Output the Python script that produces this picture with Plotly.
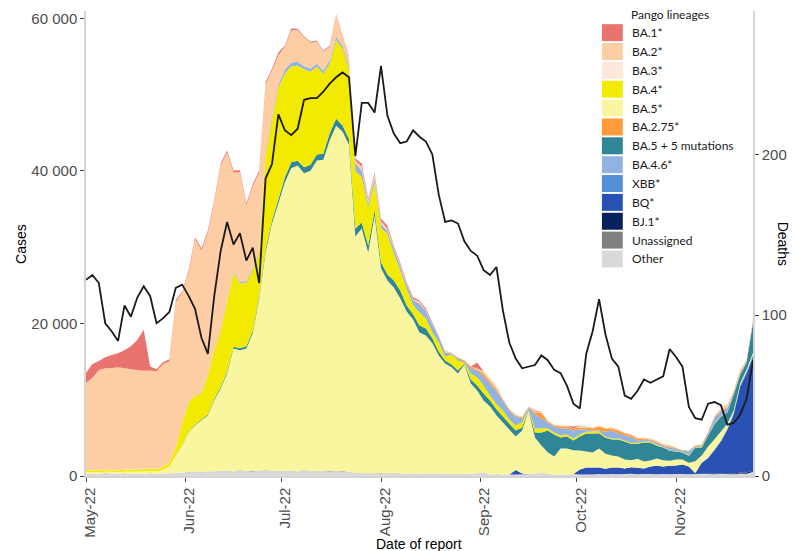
import pandas as pd
import plotly.graph_objects as go

# Reporting dates (every second day)
dates = pd.date_range("2022-05-01", "2022-11-25", freq="2D")

# Daily cases by Pango lineage
other = [320, 300, 280, 350, 300, 280, 330, 300, 280, 300, 330, 300, 320, 350, 400,
         450, 500, 550, 500, 600, 550, 700, 650, 600, 700, 650, 600, 700,
         750, 700, 650, 700, 650, 600, 700, 650, 600, 650, 600, 650, 600, 550,
         400, 400, 350, 400, 350, 350, 400, 350, 300, 300, 300, 300, 300,
         300, 250, 250, 250, 300, 250, 400, 500, 200, 250, 200, 200, 200, 200, 250,
         300, 500, 200, 200, 200, 200, 250, 200, 200, 200,
         250, 220, 260, 240, 250, 280, 230, 250, 260, 240, 250, 230, 260, 250, 240,
         250, 270, 250, 240, 260, 250, 230, 300, 300, 500]

unassigned = [20, 0, 0, 30, 0, 0, 20, 0, 0, 0, 30, 0, 0, 20, 0,
              0, 30, 0, 40, 0, 50, 0, 30, 0, 40, 0, 60, 0, 30, 0,
              50, 0, 40, 0, 60, 0, 30, 0, 50, 0, 40, 0, 30, 0, 20,
              0, 30, 0, 20, 0, 0, 20, 0, 0, 30, 0, 0, 20, 0, 0,
              20, 0, 0, 0, 20, 0, 0, 0, 20, 0, 0, 0, 20, 0, 0,
              0, 20, 0, 0, 0, 20, 0, 0, 0, 0, 20, 0, 0, 0, 0,
              20, 0, 0, 0, 0, 20, 0, 0, 0, 30, 0, 0, 40, 0, 50]

bj1 = [0] * 96 + [30, 50, 50, 80, 100, 100, 130, 150, 150]

bq = ([0] * 67 + [600, 100] + [0] * 8 +
      [660, 920, 920, 860, 730, 860, 860, 730, 860, 860, 730, 990, 1120, 990,
       1120, 1120, 1250, 990, 80, 1390, 2040, 3090, 4140, 5710, 7810, 11220,
       13000, 14900])

xbb = [0] * 95 + [50, 80, 100, 130, 150, 150, 200, 200, 250, 300]

ba5 = [200, 200, 220, 200, 250, 200, 250, 250, 300, 300, 280, 300, 500, 900, 2280,
       3550, 5200, 6070, 6770, 7320, 9340, 10770, 12770, 16100, 15750, 16050, 18070, 22560,
       28540, 32390, 35060, 37770, 39640, 40090, 38930, 39370, 40730, 40810, 43350, 45260,
       44530, 42880,
       30980, 32030, 28940, 33730, 26840, 25270, 24300, 22910, 21260, 20210, 18510, 18110,
       17060,
       15490, 14500, 13970, 13180, 14310, 11870, 10800, 9400, 8910, 7680, 6810, 5900, 4380,
       5660, 8340, 4740, 3500, 2880, 2360, 3410, 3410, 3090, 2490, 2100, 1970,
       2490, 1970, 1570, 1440, 1180, 920, 1180, 920, 790, 920, 790, 660, 790, 660, 520,
       1520, 920, 1440, 1310, 1180, 660, 260, 260, 260, 260]

ba5_mut = [0, 0, 0, 0, 0, 0, 0, 0, 0, 0, 0, 0, 0, 20, 40,
           50, 80, 100, 100, 150, 150, 200, 200, 250, 250, 300, 300, 350,
           390, 390, 520, 650, 790, 650, 790, 790, 790, 790, 920, 920, 790, 790,
           1050, 790, 920, 660, 790, 790, 920, 1050, 790, 660, 920, 920, 660,
           520, 390, 390, 390, 130, 520, 660, 920, 790, 790, 790, 790, 790, 390, 130,
           660, 1700, 2880, 2880, 1440, 1570, 1310, 1830, 2360, 2490,
           1970, 2100, 2100, 2230, 2360, 2100, 1970, 2490, 2360, 1700, 1700, 1310, 1050,
           920, 920, 1830, 1050, 1440, 1970, 1970, 1440, 2100, 1050, 920, 3930]

ba4 = [250, 250, 250, 250, 200, 250, 250, 300, 300, 300, 300, 300, 350, 500, 1050,
       2960, 3850, 3830, 3440, 5090, 6400, 7400, 9360, 9710, 8530, 8350, 7950, 5550,
       12580, 13230, 14670, 13630, 12580, 12450, 12840, 12180, 11530, 10480, 9170, 10350,
       10090, 9170,
       7600, 5900, 4980, 3670, 4460, 5370, 3540, 2620, 2230, 1180, 1700, 1310, 790,
       1180, 520, 1310, 1310, 130, 790, 1050, 1050, 660, 660, 790, 520, 660, 660, 70,
       520, 520, 260, 260, 260, 260, 260, 260, 260, 260,
       260, 130, 130, 130, 130, 130, 130, 130, 130, 130, 50, 50, 50, 50, 50,
       50, 130, 50, 50, 50, 50, 50, 0, 0, 0]

ba46 = [0] * 15 + [
    30, 40, 50, 60, 80, 100, 120, 140, 160, 180, 200, 230, 260,
    390, 390, 390, 520, 520, 520, 390, 390, 390, 390, 390, 390, 390, 390,
    920, 920, 520, 520, 520, 390, 660, 520, 520, 660, 1180, 920, 1050,
    790, 520, 130, 260, 130, 660, 920, 1180, 1570, 1700, 1310, 1180, 1180, 520, 200,
    1830, 1310, 790, 790, 920, 790, 1050, 660, 260, 130,
    130, 660, 1050, 660, 660, 790, 260, 260, 130, 260, 130, 390, 260, 200, 520,
    130, 130, 260, 790, 660, 520, 130, 260, 130, 130]

ba275 = [0] * 55 + [
    0, 0, 0, 130, 130, 260, 130, 390, 260, 260, 130, 130, 130, 130, 70,
    260, 790, 130, 130, 260, 260, 260, 260, 260, 260,
    520, 390, 260, 390, 260, 260, 260, 130, 130, 130, 130, 130, 130, 60, 60,
    60, 130, 130, 130, 130, 130, 130, 130, 100, 100]

ba3 = [40, 50, 40, 60, 50, 40, 50, 60, 40, 50, 40, 30, 40, 50, 40,
       30, 40, 30, 20, 30, 20, 30, 20, 20, 10, 20, 10, 10, 20, 10] + [0] * 75

ba2 = [11400, 12050, 13100, 13230, 13360, 13500, 13230, 13100, 12970, 12840, 12840, 12790,
       13440, 13200, 19000,
       17000, 16990, 20390, 18670, 18650, 19290, 21500, 19250, 12940, 14360, 9890, 10770,
       10350,
       8650, 6030, 3800, 3010, 4190, 4190, 3800, 3410, 2880, 2490, 1830, 2800, 1180, 1180,
       390, 520, 390, 520, 390, 260, 260, 260, 130, 130, 260, 130, 130,
       100, 260, 130, 0, 0, 0, 130, 260, 390, 390, 130, 130, 130, 130, 70,
       130, 130, 130, 130, 130, 130, 0, 260, 130, 130,
       130, 130, 130, 130, 130, 130, 130, 130, 130, 130, 130, 130, 50, 0, 70,
       70, 0, 130, 130, 260, 390, 260, 390, 160, 290]

ba1 = [1310, 1830, 1180, 1440, 1700, 1830, 2360, 3010, 3930, 5370, 520, 260, 260, 260, 260,
       130, 260, 260, 260, 260, 260, 260, 260, 260, 260, 260, 260, 260,
       260, 260, 390, 130, 260, 130, 130, 130, 130, 130, 130, 130, 130, 130,
       260, 390, 260, 260, 390, 390, 130, 260, 130, 260, 130, 260, 130,
       30, 0, 0, 0, 0, 0, 790, 0, 0, 0, 0, 0, 0, 0, 0,
       130, 0, 0, 0, 0, 0, 260] + [0] * 28

# Daily deaths (right axis)
deaths = [122, 125, 120, 95, 90, 84, 106, 99, 111, 118,
          112, 95, 98, 102, 117, 119, 112, 104, 86, 76,
          112, 140, 158, 144, 151, 134, 142, 120, 185, 194,
          225, 215, 212, 216, 234, 235, 235, 239, 244, 248,
          251, 248, 199, 232, 232, 226, 255, 224, 213, 207,
          208, 215, 211, 208, 200, 175, 158, 159, 157, 146,
          140, 137, 128, 125, 130, 103, 83, 73, 67, 68,
          69, 75, 72, 66, 64, 56, 45, 42, 76, 90,
          110, 88, 73, 68, 50, 48, 53, 60, 58, 60,
          62, 79, 74, 68, 43, 36, 35, 45, 46, 44,
          32, 33, 38, 48, 72]

# Lineage names in legend order, with their fill colours
legend_names = ["BA.1*", "BA.2*", "BA.3*", "BA.4*", "BA.5*", "BA.2.75*",
                "BA.5 + 5 mutations", "BA.4.6*", "XBB*", "BQ*", "BJ.1*",
                "Unassigned", "Other"]
colors = {
    "BA.1*": "#E9736E", "BA.2*": "#FDCDA3", "BA.3*": "#FDE8DC", "BA.4*": "#F2EA00",
    "BA.5*": "#FAF6A0", "BA.2.75*": "#FF9B3A", "BA.5 + 5 mutations": "#2E8696",
    "BA.4.6*": "#92B3E1", "XBB*": "#5490D8", "BQ*": "#2A52B5", "BJ.1*": "#0A1F5E",
    "Unassigned": "#808080", "Other": "#D9D9D9",
}

# Stacking order, bottom to top
stack = [("Other", other), ("Unassigned", unassigned), ("BJ.1*", bj1), ("BQ*", bq),
         ("XBB*", xbb), ("BA.5*", ba5), ("BA.5 + 5 mutations", ba5_mut), ("BA.4*", ba4),
         ("BA.4.6*", ba46), ("BA.2.75*", ba275), ("BA.3*", ba3), ("BA.2*", ba2),
         ("BA.1*", ba1)]

fig = go.Figure()
for name, vals in stack:
    fig.add_trace(go.Scatter(
        x=dates, y=vals, name=name, stackgroup="cases", mode="none",
        fillcolor=colors[name], line=dict(width=0), showlegend=False,
        hoverinfo="x+y+name"))

fig.add_trace(go.Scatter(
    x=dates, y=deaths, name="Deaths", yaxis="y2", mode="lines",
    line=dict(color="#1A1A1A", width=1.8), showlegend=False))

# Plot area geometry (pixels) for placing the legend and titles
W, H = 797, 551
L, R, T, B = 86, 40, 10, 75
pw, ph = W - L - R, H - T - B


def px(x):
    return (x - L) / pw


def py(y):
    return (H - B - y) / ph


tick_font = dict(family="Liberation Sans, Arial, sans-serif", size=15, color="#4D4D4D")
title_font = dict(family="Liberation Sans, Arial, sans-serif", size=14, color="#000000")
axis_common = dict(showgrid=False, zeroline=False, showline=True, linecolor="#D4D4D4",
                   linewidth=1.5, ticks="outside", ticklen=4, tickwidth=1,
                   tickcolor="#444444", tickfont=tick_font)

shapes = []
annotations = [
    dict(text="Date of report", x=px(421), y=py(544), xref="paper", yref="paper",
         showarrow=False, font=title_font, xanchor="center", yanchor="middle"),
    dict(text="Cases", x=px(20), y=py(243), xref="paper", yref="paper",
         showarrow=False, font=title_font, textangle=-90, xanchor="center", yanchor="middle"),
    dict(text="Deaths", x=px(788), y=py(243), xref="paper", yref="paper",
         showarrow=False, font=title_font, textangle=90, xanchor="center", yanchor="middle"),
    dict(text="Pango lineages", x=px(632), y=py(14), xref="paper", yref="paper",
         showarrow=False, xanchor="left", yanchor="middle",
         font=dict(family="Lato, sans-serif", size=12, color="#1A1A1A")),
]

for k, name in enumerate(legend_names):
    cy = 31.7 + 18.9 * k
    shapes.append(dict(type="rect", xref="paper", yref="paper",
                       x0=px(605), x1=px(626), y0=py(cy + 8.5), y1=py(cy - 8.5),
                       fillcolor=colors[name], line=dict(width=0)))
    annotations.append(dict(text=name, x=px(633), y=py(cy), xref="paper", yref="paper",
                            showarrow=False, xanchor="left", yanchor="middle",
                            font=dict(family="Lato, sans-serif", size=12, color="#1A1A1A")))

fig.update_layout(
    width=W, height=H, margin=dict(l=L, r=R, t=T, b=B),
    paper_bgcolor="white", plot_bgcolor="white", separators=". ",
    showlegend=False,
    xaxis=dict(type="date", range=["2022-05-01", "2022-11-25"], tick0="2022-05-01",
               dtick="M1", tickformat="%b-%y", tickangle=-90, ticklabelshift=4,
               **axis_common),
    yaxis=dict(range=[0, 60956], tickvals=[0, 20000, 40000, 60000], tickformat=",d",
               **axis_common),
    yaxis2=dict(range=[0, 289.2], tickvals=[0, 100, 200], overlaying="y", side="right",
                **axis_common),
    shapes=shapes, annotations=annotations,
)

fig.write_html("out.html")
